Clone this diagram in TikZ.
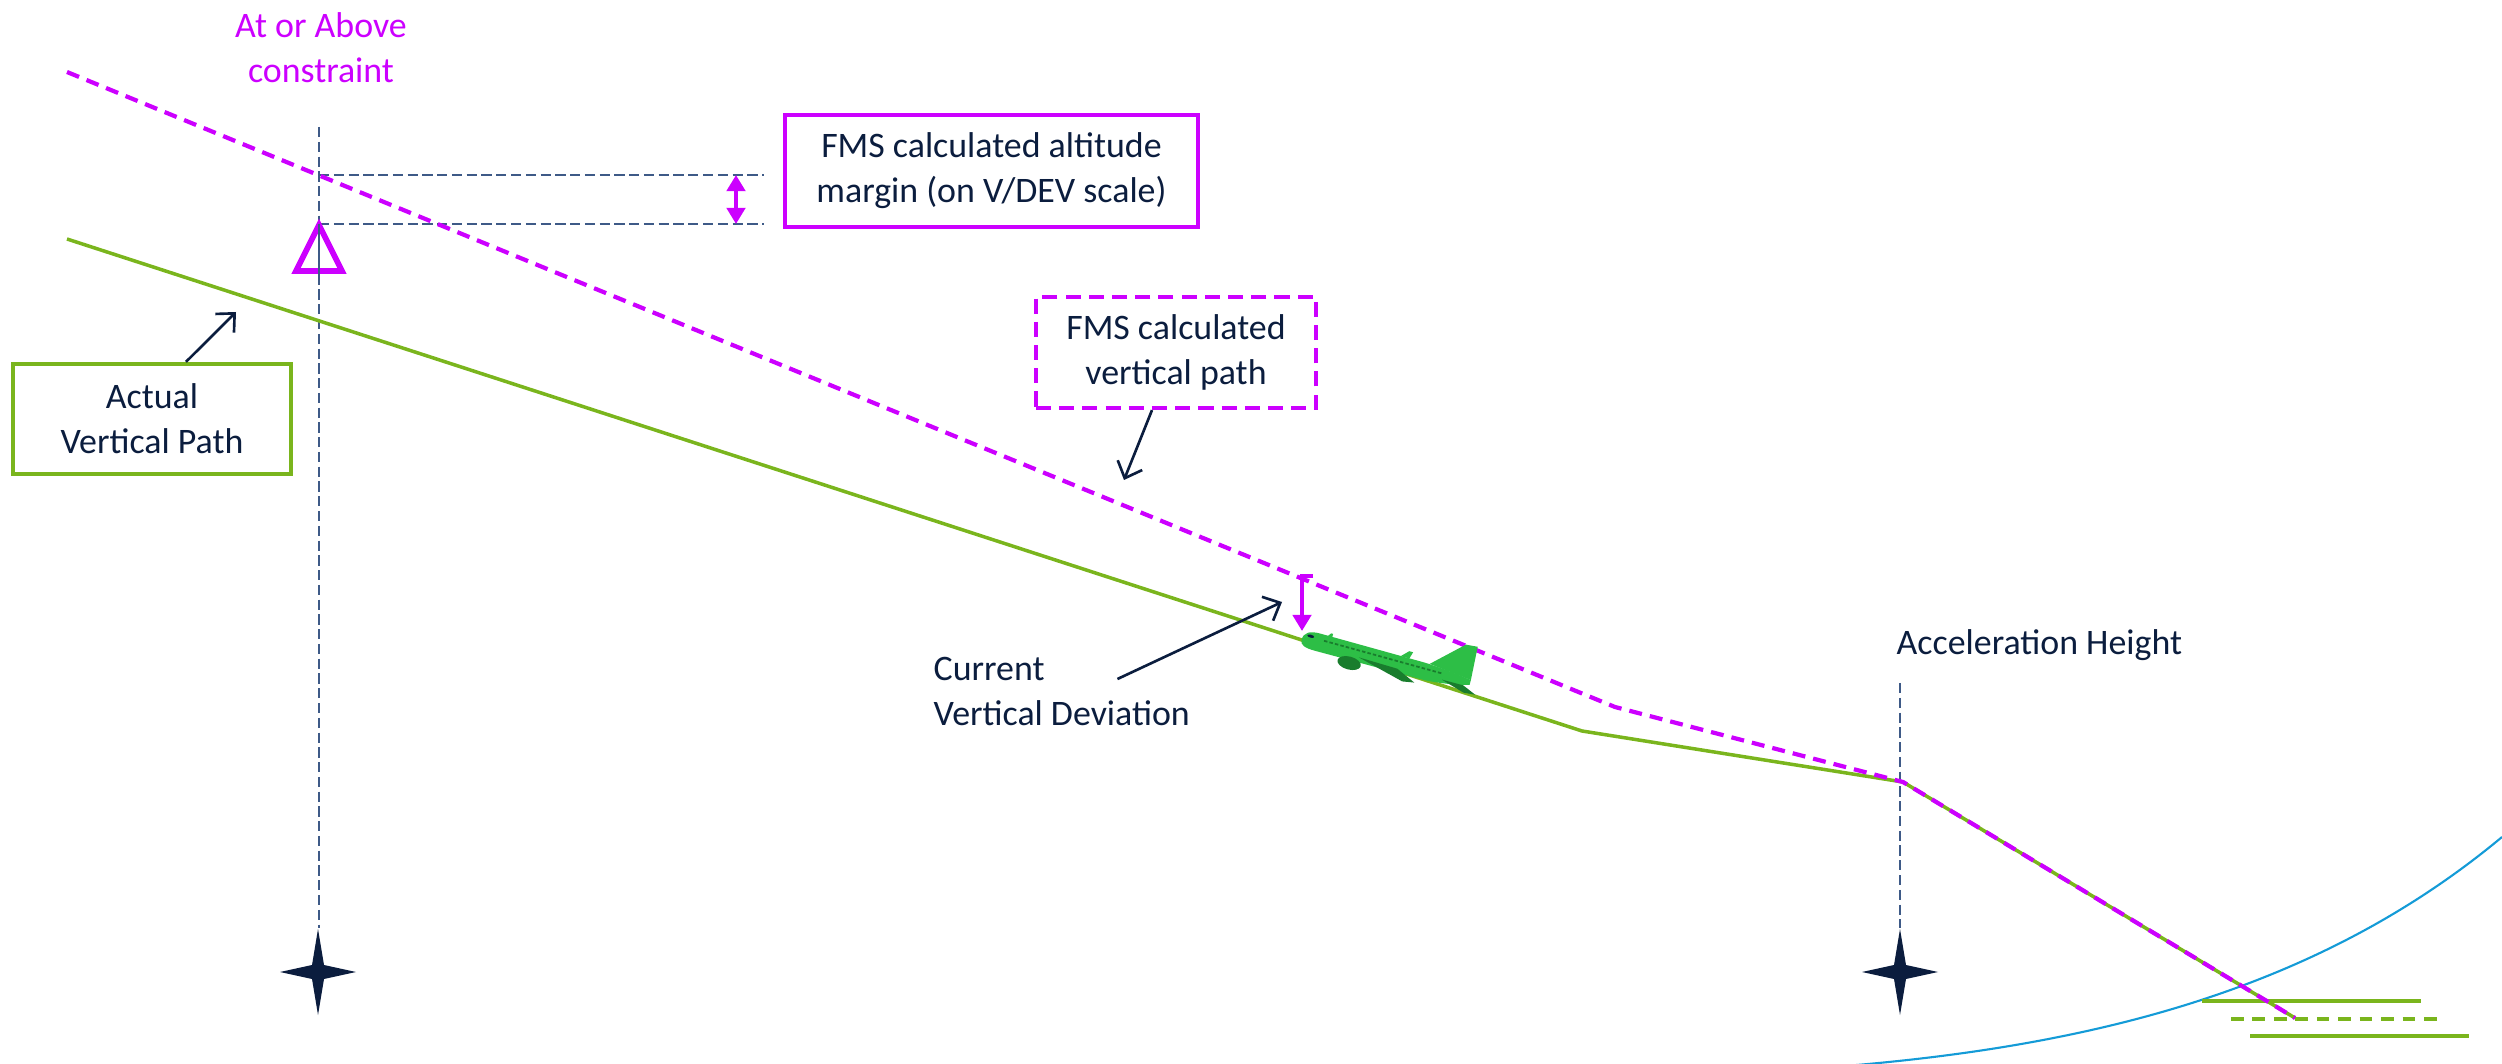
\documentclass[tikz,border=0pt]{standalone}
\usepackage{fontspec}
\setmainfont{Carlito}
\usetikzlibrary{arrows.meta,calc}

\definecolor{fmsmag}{RGB}{204,0,255}
\definecolor{pathgreen}{RGB}{122,181,29}
\definecolor{navy}{RGB}{11,29,62}
\definecolor{guide}{RGB}{62,90,135}
\definecolor{horizon}{RGB}{20,155,215}
\definecolor{jet}{RGB}{45,190,70}
\definecolor{jetdark}{RGB}{25,125,45}

\tikzset{
  lbl/.style={font=\fontsize{10.2}{12.8}\selectfont, text=navy, inner sep=0pt, align=center},
  guideline/.style={draw=guide, line width=0.5pt, dash pattern=on 2.9pt off 1.3pt},
  fmspath/.style={draw=fmsmag, line width=1.2pt, dash pattern=on 3.7pt off 2.3pt},
  actualpath/.style={draw=pathgreen, line width=1pt},
  magbox/.style={lbl, draw=fmsmag, line width=1.2pt},
  greenbox/.style={lbl, draw=pathgreen, line width=1.2pt},
  callout/.style={draw=navy, line width=0.75pt, -{Straight Barb[length=4pt,width=7.5pt]}},
  magtip/.tip={Triangle[length=4.6pt,width=5.2pt]},
  magarrow/.style={draw=fmsmag, line width=1.3pt},
  runway/.style={draw=pathgreen, line width=1.2pt},
  navstar/.pic={\fill[navy] (0,-43) -- (6,-7) -- (38,0) -- (6,7) -- (0,43) -- (-6,7) -- (-38,0) -- (-6,-7) -- cycle;}
}

\begin{document}
\begin{tikzpicture}[x=0.01cm,y=-0.01cm]
\useasboundingbox (0,0) rectangle (2502,1064);

% key points of the two profiles
\coordinate (m0) at (67,72);
\coordinate (m1) at (1615,707);
\coordinate (g0) at (67,239);
\coordinate (g1) at (1582,731);
\coordinate (accel) at (1903,782);
\coordinate (rwEnd) at (2295,1018);

% waypoint guides
\coordinate (wpTop) at (319,127);
\coordinate (wpStar) at (318,972);
\coordinate (ahTop) at (1900,683);
\coordinate (ahStar) at (1900,972);
\draw[guideline] (wpTop) -- (319,928);
\draw[guideline] (ahTop) -- (1900,928);

% altitude margin guides
\coordinate (mgTopL) at (319,175);
\coordinate (mgTopR) at (764,175);
\coordinate (mgBotL) at (319,224);
\coordinate (mgBotR) at (764,224);
\draw[guideline] (mgTopL) -- (mgTopR);
\draw[guideline] (mgBotL) -- (mgBotR);
\coordinate (mtop) at (736,175);
\coordinate (mbot) at (736,224);
\draw[magarrow, magtip-magtip] (mtop) -- (mbot);

% constraint triangle
\draw[fmsmag, line width=1.6pt, line join=miter] (319,225) -- (342,271) -- (296,271) -- cycle;
\draw[guideline] (319,224) -- (319,280);

% waypoint stars
\pic at (wpStar) {navstar};
\pic at (ahStar) {navstar};

% horizon arc
\draw[horizon, line width=0.6pt] (1845,1066) .. controls (2100,1045) and (2322,987) .. (2502,837);

% runway
\draw[runway] (2202,1001) -- (2421,1001);
\draw[runway, dash pattern=on 3.6pt off 2.5pt] (2231,1019) -- (2444,1019);
\draw[runway] (2250,1036) -- (2469,1036);

% actual and computed vertical paths
\draw[actualpath] (g0) -- (g1) -- (accel) -- (rwEnd);
\draw[fmspath] (m0) -- (m1) -- (accel) -- (rwEnd);

% vertical deviation indicator
\coordinate (devTop) at (1313,576);
\coordinate (devTip) at (1302,631);
\draw[magarrow, -magtip] (devTop) -| (devTip);

% aircraft
\begin{scope}[shift={(1302,638)}, rotate=-15]
  \fill[jet] (0,2) .. controls (0,-6) and (6,-9) .. (16,-9) -- (125,-8)
    .. controls (145,-7) and (162,-5) .. (174,-3) -- (174,2)
    .. controls (160,6) and (145,8) .. (130,9) -- (16,9)
    .. controls (5,9) and (0,7) .. cycle;
  \fill[jet] (130,-8) -- (160,-36) -- (172,-37) -- (174,-3) -- cycle;
  \fill[jet] (100,-8) -- (107,-15) -- (111,-15) -- (109,-8) -- cycle;
  \fill[jet] (24,-8) -- (27,-12) -- (29,-12) -- (29,-8) -- cycle;
  \fill[jetdark] (60,4) -- (100,5) -- (120,14) -- (108,16) -- cycle;
  \fill[jetdark] (52,12) ellipse [x radius=12, y radius=6.5];
  \fill[jetdark] (146,4) -- (168,4) -- (182,10) -- (170,11) -- cycle;
  \draw[jetdark, line width=0.5pt, dash pattern=on 1pt off 0.6pt] (22,-3) -- (145,-2);
  \fill[navy] (8,-4) ellipse [x radius=3.5, y radius=1.5];
\end{scope}

% labels
\node[lbl, text=fmsmag, anchor=north] (aoa) at (321,12) {At or Above\\constraint};
\node[magbox, minimum width=4.13cm, minimum height=1.12cm] (margin) at (991.5,171)
  {FMS calculated altitude\\margin (on V/DEV scale)};
\node[magbox, dash pattern=on 4.3pt off 2.3pt, minimum width=2.80cm, minimum height=1.11cm] (fmsvp) at (1176,352.5)
  {FMS calculated\\vertical path};
\node[greenbox, minimum width=2.78cm, minimum height=1.10cm] (actual) at (152,419)
  {Actual\\Vertical Path};
\node[lbl, align=left, anchor=north west] (devlbl) at (933,657) {Current\\Vertical Deviation};
\node[lbl, anchor=base west] (acclbl) at (1896,655) {Acceleration Height};

% callout arrows
\coordinate (avpTip) at (236,312);
\coordinate (vpTip) at (1124,480);
\coordinate (devPtr) at (1282,602);
\draw[callout] ($(actual.north)+(34,0)$) -- (avpTip);
\draw[callout] ($(fmsvp.south)+(-24,0)$) -- (vpTip);
\draw[callout] ($(devlbl.north east)+(-73,22)$) -- (devPtr);
\end{tikzpicture}
\end{document}
